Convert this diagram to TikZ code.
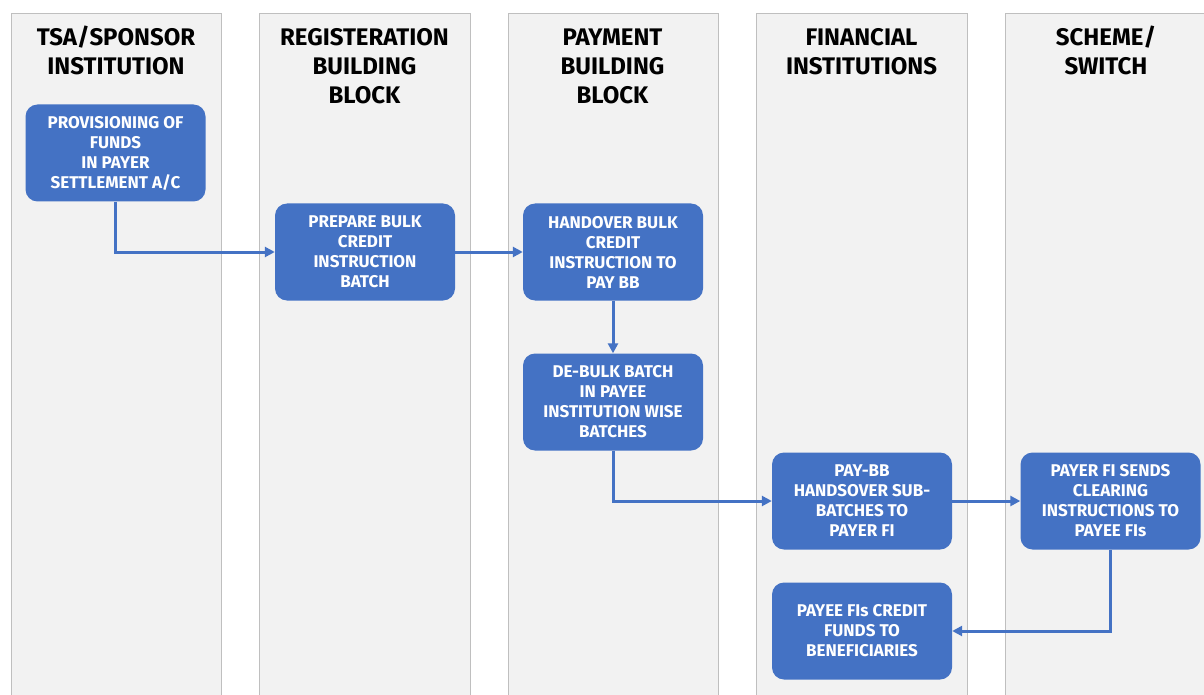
\documentclass[tikz,border=0pt]{standalone}
\usepackage{fontspec}
\setmainfont{Fira Sans}
\usetikzlibrary{arrows.meta,positioning}
\definecolor{boxblue}{HTML}{4472C4}
\definecolor{lanefill}{HTML}{F2F2F2}
\definecolor{laneline}{HTML}{BFBFBF}
\tikzset{
  lane/.style={fill=lanefill,draw=laneline,line width=1pt},
  lanetitle/.style={anchor=north,align=center,font=\fontsize{24}{29}\selectfont\bfseries,text=black,inner sep=0pt},
  stepbox/.style={fill=boxblue,draw=none,rounded corners=12pt,minimum width=180pt,minimum height=97pt,align=center,text=white,font=\fontsize{17}{20}\selectfont\bfseries,inner sep=2pt},
  flow/.style={draw=boxblue,line width=3pt,-{Triangle[length=10pt,width=10pt]}}
}
\begin{document}
\begin{tikzpicture}[x=1pt,y=-1pt]
\useasboundingbox (0,0) rectangle (1204,695);
\fill[white] (0,0) rectangle (1204,695);
% lanes
\draw[lane] (11,14) rectangle (221,705);
\draw[lane] (259.5,14) rectangle (470,705);
\draw[lane] (508,14) rectangle (718,705);
\draw[lane] (756.5,14) rectangle (967,705);
\draw[lane] (1005.5,14) rectangle (1216,705);
% titles
\node[lanetitle] (t1) at (116,25.5) {\strut TSA/SPONSOR\\INSTITUTION};
\node[lanetitle] (t2) at (364.5,25.5) {\strut REGISTERATION\\BUILDING\\BLOCK};
\node[lanetitle] (t3) at (612.5,25.5) {\strut PAYMENT\\BUILDING\\BLOCK};
\node[lanetitle] (t4) at (861.5,25.5) {\strut FINANCIAL\\INSTITUTIONS};
\node[lanetitle] (t5) at (1106,25.5) {\strut SCHEME/\\SWITCH};
% boxes
\node[stepbox] (b1) at (115.5,153) {PROVISIONING OF\\FUNDS\\IN PAYER\\SETTLEMENT A/C};
\node[stepbox] (b2) at (365,252) {PREPARE BULK\\CREDIT\\INSTRUCTION\\BATCH};
\node[stepbox] (b3) at (613,252) {HANDOVER BULK\\CREDIT\\INSTRUCTION TO\\PAY BB};
\node[stepbox] (b4) at (613,402) {DE-BULK BATCH\\IN PAYEE\\INSTITUTION WISE\\BATCHES};
\node[stepbox] (b5) at (862,501) {PAY-BB\\HANDSOVER SUB-\\BATCHES TO\\PAYER FI};
\node[stepbox] (b6) at (1110.5,501) {PAYER FI SENDS\\CLEARING\\INSTRUCTIONS TO\\PAYEE FIs};
\node[stepbox] (b7) at (862,631) {PAYEE FIs CREDIT\\FUNDS TO\\BENEFICIARIES};
% connectors
\draw[flow] (b1.south) |- (b2.west);
\draw[flow] (b2.east) -- (b3.west);
\draw[flow] (b3.south) -- (b4.north);
\draw[flow] (b4.south) |- (b5.west);
\draw[flow] (b5.east) -- (b6.west);
\draw[flow] (b6.south) |- (b7.east);
\end{tikzpicture}
\end{document}
